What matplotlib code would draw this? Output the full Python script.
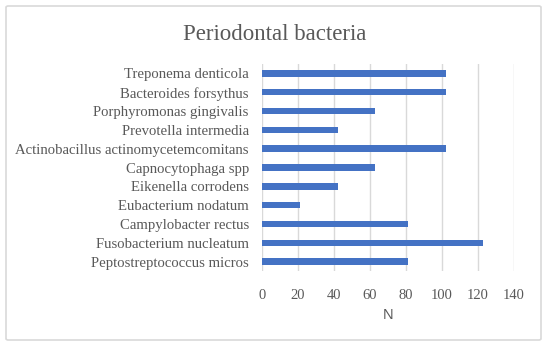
import matplotlib
matplotlib.use("Agg")
import matplotlib.pyplot as plt
from matplotlib.patches import FancyBboxPatch

# data, top to bottom as in the chart
bacteria = ["Treponema denticola", "Bacteroides forsythus", "Porphyromonas gingivalis",
            "Prevotella intermedia", "Actinobacillus actinomycetemcomitans",
            "Capnocytophaga spp", "Eikenella corrodens", "Eubacterium nodatum",
            "Campylobacter rectus", "Fusobacterium nucleatum", "Peptostreptococcus micros"]
counts = [102, 102, 63, 42, 102, 63, 42, 21, 81, 123, 81]
xticks = [0, 20, 40, 60, 80, 100, 120, 140]

plt.rcParams['font.family'] = ['Liberation Serif', 'DejaVu Serif']
grey = '#595959'

fig = plt.figure(figsize=(5.5, 3.47), dpi=100)
ax = fig.add_axes([262 / 550, 76 / 347, 252 / 550, 207 / 347])

pos = list(range(len(bacteria)))
ax.barh(pos, counts, height=0.34, color='#4472C4', zorder=3)
ax.set_ylim(len(bacteria) - 0.5, -0.5)
ax.set_yticks(pos)
ax.set_yticklabels(bacteria, fontsize=10.6, color=grey)
ax.set_xlim(0, 140)
ax.set_xticks(xticks)
ax.set_xticklabels([str(t) for t in xticks], fontsize=10.5, color=grey)
ax.tick_params(length=0)
ax.tick_params(axis='y', pad=9.5)
ax.tick_params(axis='x', pad=13)
ax.grid(axis='x', color='#d9d9d9', linewidth=1, zorder=0)
for s in ax.spines.values():
    s.set_visible(False)
ax.set_xlabel('N', fontsize=10.5, color=grey, labelpad=4,
              family=['Liberation Sans', 'DejaVu Sans'])

fig.text(0.5, 1 - 34 / 347, 'Periodontal bacteria', fontsize=16.5, color=grey,
         ha='center', va='center')

border = FancyBboxPatch((6 / 550, 7 / 347), 535 / 550, 334 / 347,
                        boxstyle='round,pad=0,rounding_size=0.004',
                        transform=fig.transFigure, fill=False,
                        edgecolor='#d9d9d9', linewidth=1.2)
fig.patches.append(border)

fig.savefig('out.png', dpi=100)
